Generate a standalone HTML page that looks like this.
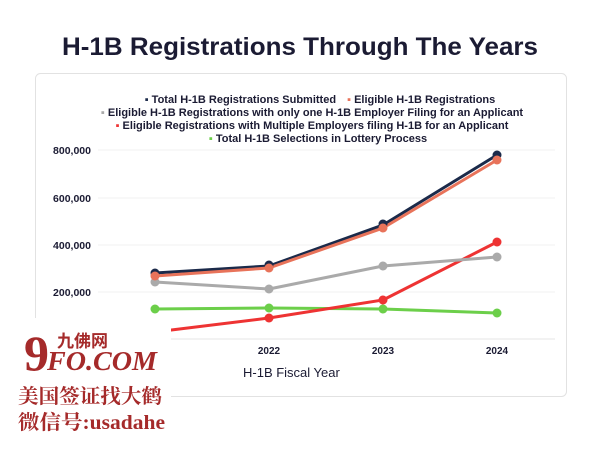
<!DOCTYPE html>
<html><head><meta charset="utf-8"><style>
body{margin:0;width:600px;height:450px;background:#fff;overflow:hidden;font-family:"Liberation Sans",sans-serif;}
</style></head><body>
<svg width="600" height="450" xmlns="http://www.w3.org/2000/svg" font-family="Liberation Sans, sans-serif">
<text x="300" y="55" text-anchor="middle" font-size="25" font-weight="bold" fill="#1b1b33" textLength="476" lengthAdjust="spacingAndGlyphs">H-1B Registrations Through The Years</text>
<rect x="35.5" y="73.5" width="531" height="323" rx="5" fill="#fff" stroke="#e2e2e2"/>
<g font-size="11" font-weight="bold" fill="#1b1b33" text-anchor="middle">
<text x="320" y="103"><tspan fill="#1b2a4a">▪</tspan> Total H-1B Registrations Submitted <tspan dx="8" fill="#e8735a">▪</tspan> Eligible H-1B Registrations</text>
<text x="312" y="116"><tspan fill="#aaa">▪</tspan> Eligible H-1B Registrations with only one H-1B Employer Filing for an Applicant</text>
<text x="312" y="129"><tspan fill="#ee3333">▪</tspan> Eligible Registrations with Multiple Employers filing H-1B for an Applicant</text>
<text x="318" y="142"><tspan fill="#6ccf4a">▪</tspan> Total H-1B Selections in Lottery Process</text>
</g>
<g stroke="#f0f0f0" stroke-width="1">
<line x1="98" y1="150" x2="555" y2="150"/><line x1="98" y1="198" x2="555" y2="198"/>
<line x1="98" y1="245" x2="555" y2="245"/><line x1="98" y1="292" x2="555" y2="292"/>
<line x1="98" y1="339" x2="555" y2="339" stroke="#e6e6e6"/>
</g>
<g font-size="10.5" font-weight="bold" fill="#1b1b33" text-anchor="end">
<text x="91" y="154">800,000</text><text x="91" y="202">600,000</text>
<text x="91" y="249">400,000</text><text x="91" y="296">200,000</text>
</g>
<g font-size="10" font-weight="bold" fill="#1b1b33" text-anchor="middle">
<text x="269" y="354">2022</text><text x="383" y="354">2023</text><text x="497" y="354">2024</text>
</g>
<text x="243" y="377" font-size="13" fill="#1b1b33">H-1B Fiscal Year</text>
<g fill="none" stroke-width="3" stroke-linejoin="round">
<polyline stroke="#6ccf4a" points="155,309 269,308 383,309 497,313"/>
<polyline stroke="#ee3333" points="100,345 155,332 269,318 383,300 497,242"/>
<polyline stroke="#aaaaaa" points="155,282 269,289 383,266 497,257"/>
<polyline stroke="#1b2a4a" points="155,273 269,266 383,225 497,155"/>
<polyline stroke="#e8735a" points="155,276 269,268 383,228 497,160"/>
</g>
<g fill="#6ccf4a"><circle cx="155" cy="309" r="4.5"/><circle cx="269" cy="308" r="4.5"/><circle cx="383" cy="309" r="4.5"/><circle cx="497" cy="313" r="4.5"/></g>
<g fill="#ee3333"><circle cx="269" cy="318" r="4.5"/><circle cx="383" cy="300" r="4.5"/><circle cx="497" cy="242" r="4.5"/></g>
<g fill="#aaaaaa"><circle cx="155" cy="282" r="4.5"/><circle cx="269" cy="289" r="4.5"/><circle cx="383" cy="266" r="4.5"/><circle cx="497" cy="257" r="4.5"/></g>
<g fill="#1b2a4a"><circle cx="155" cy="273" r="4.5"/><circle cx="269" cy="265" r="4.5"/><circle cx="383" cy="224" r="4.5"/><circle cx="497" cy="155" r="4.5"/></g>
<g fill="#e8735a"><circle cx="155" cy="276" r="4.5"/><circle cx="269" cy="268" r="4.5"/><circle cx="383" cy="228" r="4.5"/><circle cx="497" cy="160" r="4.5"/></g>
<rect x="0" y="318" width="171" height="120" fill="#fff"/>
<text x="24" y="370" font-family="Liberation Serif, serif" font-size="50" font-weight="bold" fill="#a52a2a">9</text>
<text x="47" y="370" font-family="Liberation Serif, serif" font-size="27" font-weight="bold" font-style="italic" fill="#a52a2a" textLength="110" lengthAdjust="spacingAndGlyphs">FO.COM</text>
<text x="57" y="347" font-family="Noto Sans CJK SC, sans-serif" font-size="17" font-weight="bold" fill="#a52a2a">九佛网</text>
<text x="18" y="403" font-family="Noto Serif CJK SC, Noto Sans CJK SC, serif" font-size="20" font-weight="bold" fill="#a52a2a" textLength="144" lengthAdjust="spacingAndGlyphs">美国签证找大鹤</text>
<text x="18" y="429" font-family="Liberation Serif, Noto Serif CJK SC, serif" font-size="20" font-weight="bold" fill="#a52a2a" textLength="147" lengthAdjust="spacingAndGlyphs">微信号:usadahe</text>
</svg>
</body></html>
